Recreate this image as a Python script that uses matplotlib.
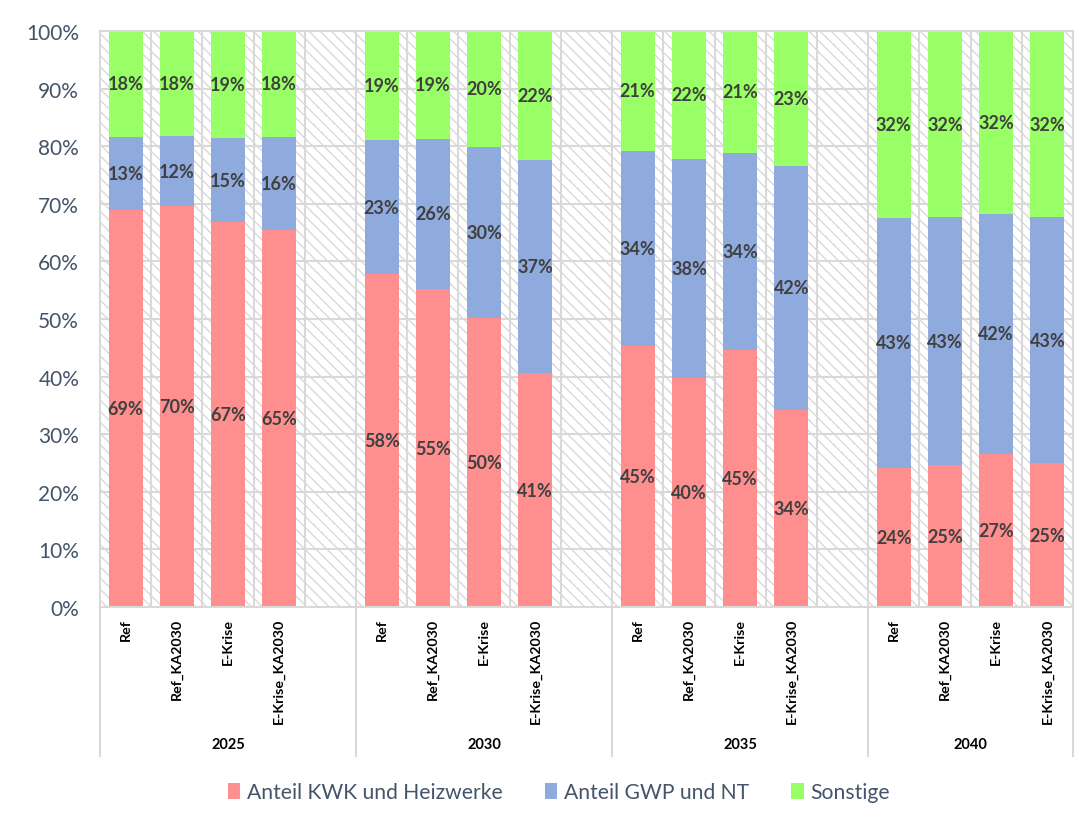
import numpy as np
import matplotlib
matplotlib.use('Agg')
from matplotlib import pyplot as plt
from matplotlib.patches import Rectangle
from matplotlib.transforms import blended_transform_factory

plt.rcParams['font.family'] = ['Lato', 'DejaVu Sans']
plt.rcParams['hatch.linewidth'] = 0.9

# Jahre und Szenarien
jahre = ['2025', '2030', '2035', '2040']
szenarien = ['Ref', 'Ref_KA2030', 'E-Krise', 'E-Krise_KA2030']

# Anteile in % (je Jahr: Ref, Ref_KA2030, E-Krise, E-Krise_KA2030)
anteil_kwk = [69.0, 69.6, 66.8, 65.4,
              57.8, 55.2, 50.2, 40.6,
              45.3, 39.8, 44.6, 34.2,
              24.2, 24.6, 26.6, 25.0]
anteil_gwp = [12.6, 12.1, 14.6, 16.2,
              23.2, 26.1, 29.7, 37.0,
              33.9, 38.0, 34.3, 42.4,
              43.4, 43.1, 41.7, 42.7]
sonstige = [18.4, 18.3, 18.6, 18.4,
            19.0, 18.7, 20.1, 22.4,
            20.8, 22.2, 21.1, 23.4,
            32.4, 32.3, 31.7, 32.3]

farben = ['#ff8f8f', '#8faadc', '#99ff66']
namen = ['Anteil KWK und Heizwerke', 'Anteil GWP und NT', 'Sonstige']
grau = '#d9d9d9'
schrift = '#44546a'

# Positionen: 4 Balken je Jahr, dazwischen eine leere Spalte
n = len(szenarien)
pos = np.array([g * (n + 1) + i for g in range(len(jahre)) for i in range(n)])
x_max = pos[-1] + 0.5

fig = plt.figure(figsize=(10.87, 8.28), dpi=100)
ax = fig.add_axes([100 / 1087, 1 - 608 / 828, 973 / 1087, 576 / 828])

# schraffierter Hintergrund der Zeichenfläche
ax.add_patch(Rectangle((0, 0), 1, 1, transform=ax.transAxes, facecolor='white',
                       edgecolor='#d6d6d6', hatch='\\\\\\', lw=0, zorder=0))

unten = np.zeros(len(pos))
for werte, farbe, name in zip([anteil_kwk, anteil_gwp, sonstige], farben, namen):
    werte = np.array(werte)
    balken = ax.bar(pos, werte, width=0.66, bottom=unten, color=farbe, label=name, zorder=2)
    ax.bar_label(balken, labels=['{:.0f}%'.format(v) for v in werte], label_type='center',
                 fontsize=13, fontweight='bold', color='#404040')
    unten += werte

ax.set_xlim(-0.5, x_max)
ax.set_ylim(0, 100)

# Gitter: horizontal alle 10 %, vertikal an jeder Spaltengrenze
for y in range(10, 100, 10):
    ax.axhline(y, color=grau, lw=1.5, zorder=1)
for xg in np.arange(0.5, x_max, 1.0):
    ax.axvline(xg, color=grau, lw=1.5, zorder=1)
for s in ax.spines.values():
    s.set_color(grau)
    s.set_linewidth(1.5)

ax.set_yticks(range(0, 101, 10))
ax.set_yticklabels(['{}%'.format(v) for v in range(0, 101, 10)], fontsize=15, color=schrift)
ax.tick_params(axis='y', length=0, pad=15)

ax.set_xticks(pos)
ax.set_xticklabels(szenarien * len(jahre), rotation=90, fontsize=10.3, fontweight='bold',
                   color='black')
ax.tick_params(axis='x', length=0, pad=8)

# Jahresgruppen unter der Achse mit Trennlinien
trans = blended_transform_factory(ax.transData, ax.transAxes)
tiefe = -(757 - 608) / 576
grenzen = [-0.5] + [g * (n + 1) - 0.5 for g in range(1, len(jahre))] + [x_max]
for xg in grenzen:
    ax.plot([xg, xg], [0, tiefe], transform=trans, color=grau, lw=1.5, clip_on=False)
for g, jahr in enumerate(jahre):
    mitte = (grenzen[g] + grenzen[g + 1]) / 2
    ax.text(mitte, -(745 - 608) / 576, jahr, transform=trans, ha='center', va='center',
            fontsize=10.5, fontweight='bold')

fig.legend(loc='center', bbox_to_anchor=(0.514, 1 - 793 / 828), ncol=3, frameon=False,
           fontsize=15.2, labelcolor=schrift, handlelength=0.6, handleheight=0.8,
           handletextpad=0.3, columnspacing=2.0)

fig.savefig('out.png', dpi=100)
